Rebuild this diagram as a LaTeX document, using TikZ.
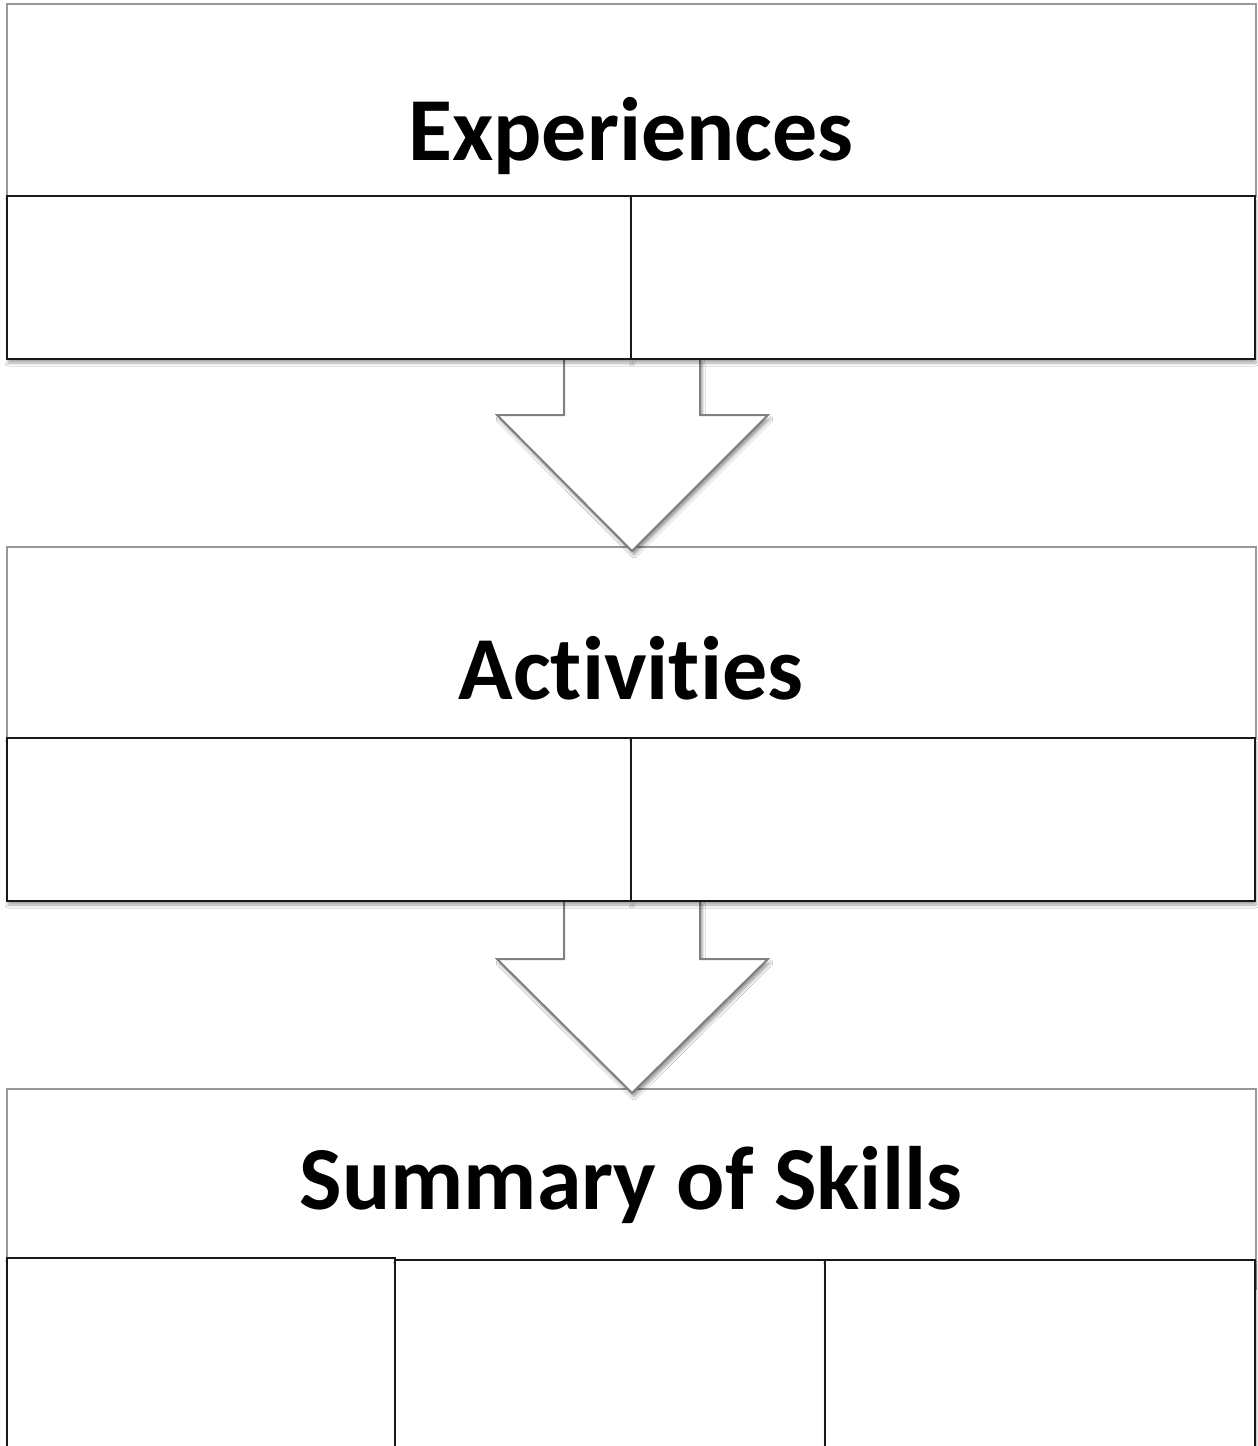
\documentclass[tikz,border=0pt]{standalone}
\usepackage{fontspec}
\setmainfont[Ligatures=NoCommon]{Carlito}
\usetikzlibrary{shadows.blur}
\tikzset{
  header/.style={draw=black!40, line width=2pt, fill=white, inner sep=0pt, outer sep=0pt, anchor=north west},
  cell/.style={draw=black!90, line width=2.5pt, fill=white, inner sep=0pt, outer sep=0pt, anchor=north west,
    blur shadow={shadow xshift=1pt, shadow yshift=-4pt, shadow blur steps=6, shadow opacity=35, shadow blur radius=3pt}},
  bigarrow/.style={draw=black!50, line width=2pt, fill=white, line join=miter,
    blur shadow={shadow xshift=2pt, shadow yshift=-4pt, shadow blur steps=6, shadow opacity=40, shadow blur radius=3pt}},
  title/.style={font=\fontsize{90}{100}\selectfont\bfseries, anchor=base, inner sep=0pt}
}
\begin{document}
\begin{tikzpicture}[x=1pt, y=-1pt]
\useasboundingbox (0,0) rectangle (1258,1446);
\clip (0,0) rectangle (1258,1446);
\fill[white] (0,0) rectangle (1258,1446);
% headers
\node[header, minimum width=1249pt, minimum height=192pt] (h1) at (7,4) {};
\node[header, minimum width=1249pt, minimum height=191pt] (h2) at (7,547) {};
\node[header, minimum width=1249pt, minimum height=200pt] (h3) at (7,1089) {};
% arrows
\draw[bigarrow] (564,358) -- (564,415) -- (497,415) -- (632,551) -- (768,415) -- (700,415) -- (700,358) -- cycle;
\draw[bigarrow] (564,900) -- (564,959) -- (497,959) -- (632,1093) -- (768,959) -- (700,959) -- (700,900) -- cycle;
% cells
\node[cell, minimum width=624pt, minimum height=163pt] (c11) at (7,196) {};
\node[cell, minimum width=624pt, minimum height=163pt] (c12) at (631,196) {};
\node[cell, minimum width=624pt, minimum height=163pt] (c21) at (7,738) {};
\node[cell, minimum width=624pt, minimum height=163pt] (c22) at (631,738) {};
\node[cell, minimum width=388pt, minimum height=220pt] (c31) at (7,1258) {};
\node[cell, minimum width=430pt, minimum height=220pt] (c32) at (395,1260) {};
\node[cell, minimum width=430pt, minimum height=220pt] (c33) at (825,1260) {};
% titles
\node[title] (t1) at (631,160) {Experiences};
\node[title] (t2) at (631,699) {Activities};
\node[title] (t3) at (631,1209) {Summary of Skills};
\end{tikzpicture}
\end{document}
